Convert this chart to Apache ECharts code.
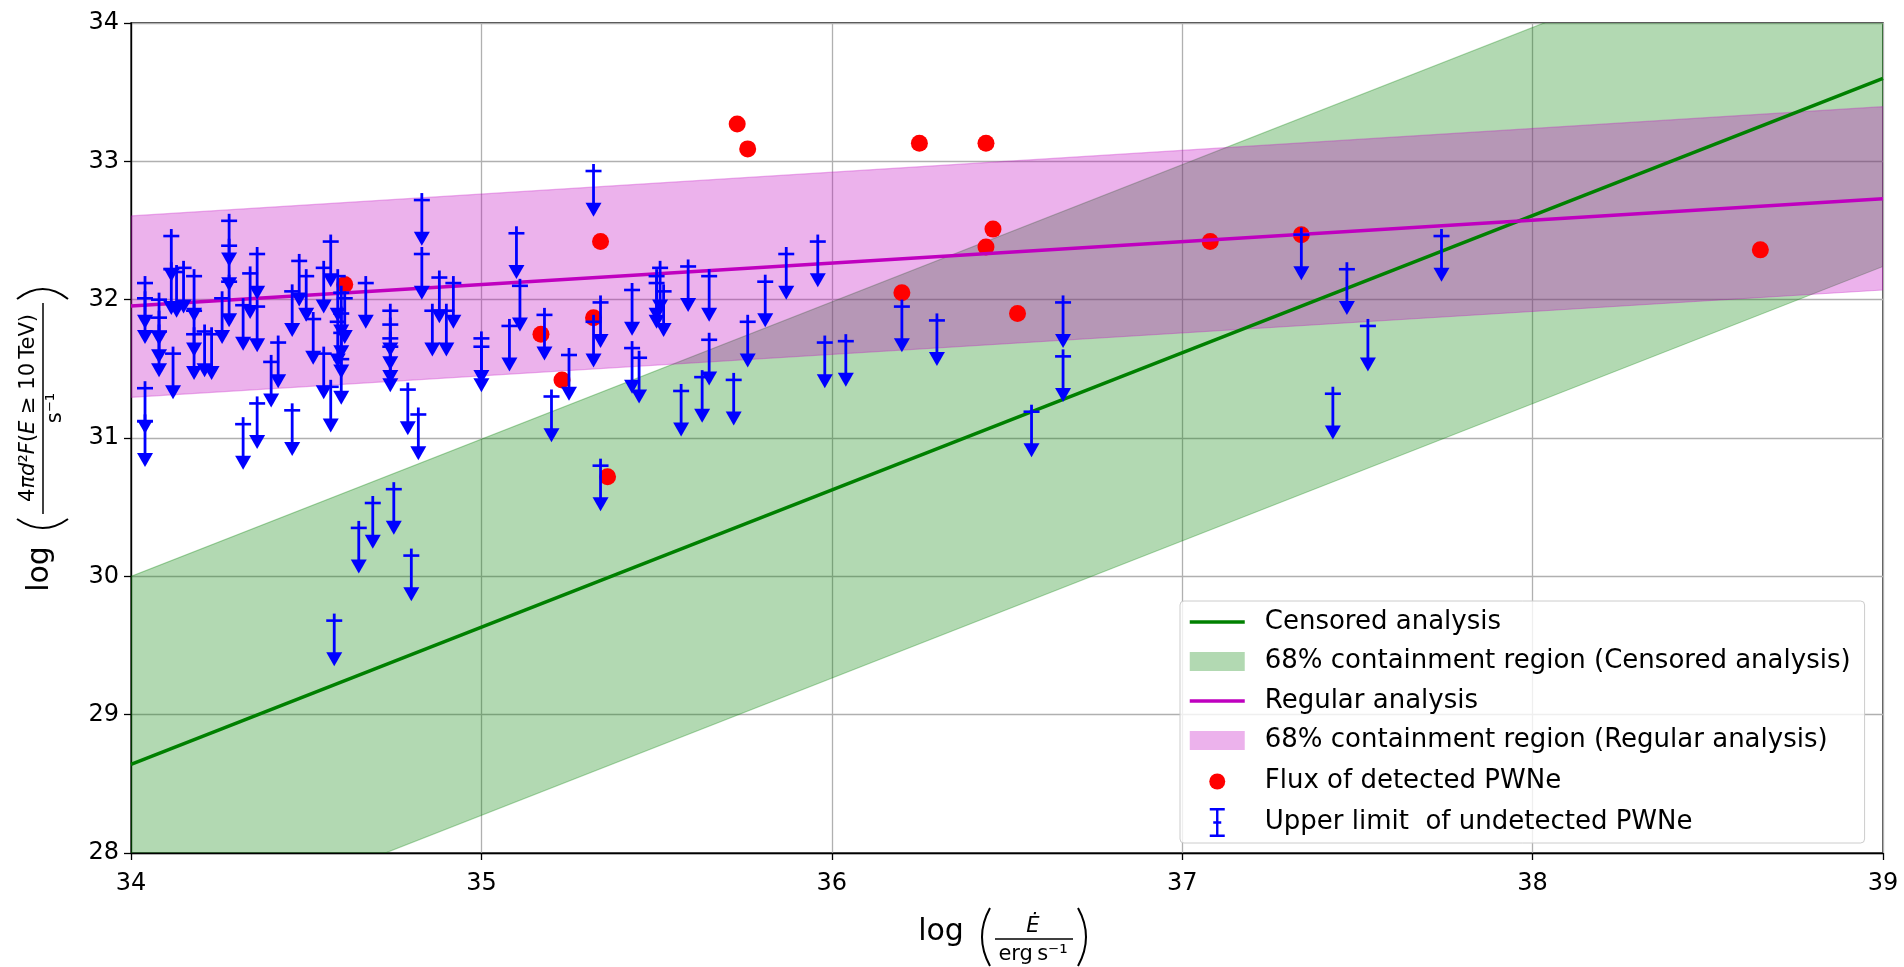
<!DOCTYPE html>
<html>
<head>
<meta charset="utf-8">
<script src="https://cdn.jsdelivr.net/npm/echarts@6/dist/echarts.min.js"></script>
<style>
  html, body { margin: 0; padding: 0; background: #fff; }
  #chart { width: 1904px; height: 967px; }
</style>
</head>
<body>
<div id="chart"></div>
<script>
var FONT = "DejaVu Sans";

// fitted relations (x = log Edot, y = log luminosity)
var censoredLine = [[34, 28.64], [39, 33.60]];
var censoredUpper = [[34, 30.00], [39, 34.96]];
var censoredLower = [[34, 27.28], [39, 32.24]];
var regularLine = [[34, 31.954], [39, 32.73]];
var regularUpper = [[34, 32.605], [39, 33.395]];
var regularLower = [[34, 31.294], [39, 32.07]];

// detected PWNe
var detX = [34.61, 35.17, 35.23, 35.32, 35.34, 35.36, 35.73, 35.76, 36.20, 36.25, 36.44, 36.44, 36.46, 36.53, 37.08, 37.34, 38.65];
var detY = [32.11, 31.75, 31.42, 31.87, 32.42, 30.72, 33.27, 33.09, 32.05, 33.13, 33.13, 32.38, 32.51, 31.90, 32.42, 32.47, 32.36];

// upper limits of undetected PWNe
var ulX = [34.04, 34.04, 34.04, 34.04, 34.08, 34.08, 34.08, 34.115, 34.115, 34.12, 34.13, 34.15,
  34.18, 34.18, 34.18, 34.21, 34.23, 34.26, 34.28, 34.28, 34.28, 34.32, 34.32, 34.34,
  34.36, 34.36, 34.36, 34.40, 34.42, 34.46, 34.46, 34.48, 34.50, 34.52, 34.55, 34.55,
  34.57, 34.57, 34.58, 34.59, 34.59, 34.60, 34.60, 34.60, 34.60, 34.61, 34.65, 34.67,
  34.69, 34.74, 34.74, 34.74, 34.74, 34.75, 34.79, 34.80, 34.82, 34.83, 34.83, 34.86,
  34.88, 34.90, 34.92, 35.00, 35.00, 35.08, 35.10, 35.11, 35.18, 35.20, 35.25, 35.32,
  35.32, 35.34, 35.34, 35.43, 35.43, 35.45, 35.50, 35.50, 35.51, 35.52, 35.57, 35.59,
  35.63, 35.65, 35.65, 35.72, 35.76, 35.81, 35.87, 35.96, 35.98, 36.04, 36.20, 36.30,
  36.57, 36.66, 36.66, 37.34, 37.43, 37.47, 37.53, 37.74];
var ulY = [32.12, 32.01, 31.36, 31.12, 32.00, 31.87, 31.77, 32.46, 32.22, 31.61, 32.20, 32.23,
  32.17, 31.92, 31.75, 31.77, 31.75, 32.01, 32.57, 32.39, 32.13, 31.96, 31.10, 32.19,
  32.33, 31.95, 31.25, 31.55, 31.69, 32.06, 31.20, 32.28, 32.17, 31.86, 32.23, 31.61,
  32.42, 31.37, 29.68, 32.17, 31.84, 32.05, 31.90, 31.76, 31.57, 32.01, 30.35, 32.12,
  30.53, 31.92, 31.82, 31.72, 31.66, 30.63, 31.35, 30.15, 31.17, 32.72, 32.33, 31.92,
  32.16, 31.92, 32.12, 31.72, 31.66, 31.81, 32.48, 32.10, 31.89, 31.30, 31.60, 32.93,
  31.84, 31.98, 30.80, 32.07, 31.65, 31.58, 32.17, 32.12, 32.23, 32.06, 31.34, 32.24,
  31.44, 32.17, 31.71, 31.42, 31.84, 32.13, 32.33, 32.42, 31.69, 31.70, 31.95, 31.85,
  31.19, 31.98, 31.59, 32.47, 31.32, 32.22, 31.81, 32.46];
var ulArrowLength = 0.33;

var xTicks = [34, 35, 36, 37, 38, 39];
var yTicks = [28, 29, 30, 31, 32, 33, 34];

var names = {
  cLine: "Censored analysis",
  cBand: "68% containment region (Censored analysis)",
  rLine: "Regular analysis",
  rBand: "68% containment region (Regular analysis)",
  det: "Flux of detected PWNe",
  ul: "Upper limit  of undetected PWNe"
};

var GREEN = "#008000", MAGENTA = "#bf00bf", BLUE = "#0000ff";
var greenFill = "rgba(0,128,0,0.3)", magentaFill = "rgba(191,0,191,0.3)";

// legend icons drawn in a 55x29 box (the two lone moves pin the box size)
var BOX = "path://M0,0 M55,29 ";
var patchIcon = BOX + "M0,5 L55,5 L55,24 L0,24 Z";
var dotIcon = BOX + "M35.5,14.5 A8,8 0 1 1 19.5,14.5 A8,8 0 1 1 35.5,14.5 Z";
var ulIcon = BOX + "M26.3,0 L28.7,0 L28.7,29 L26.3,29 Z M20,0 L35,0 L35,2.4 L20,2.4 Z " +
  "M20,26.6 L35,26.6 L35,29 L20,29 Z M23.5,13.3 L31.5,13.3 L31.5,15.7 L23.5,15.7 Z";

function band(name, upper, lower, fill, z) {
  return {
    name: name,
    type: "custom",
    z: z,
    clip: true,
    silent: true,
    itemStyle: { color: fill },
    data: upper,
    renderItem: function (params, api) {
      if (params.dataIndex !== 0) return;
      var pts = upper.map(function (p) { return api.coord(p); })
        .concat(lower.slice().reverse().map(function (p) { return api.coord(p); }));
      return {
        type: "polygon",
        shape: { points: pts },
        style: { fill: fill, stroke: fill, lineWidth: 1.2 }
      };
    }
  };
}

var ulData = ulX.map(function (x, i) { return [x, ulY[i]]; });
var detData = detX.map(function (x, i) { return [x, detY[i]]; });

function axis(ticks, margin) {
  return {
    type: "value",
    min: ticks[0],
    max: ticks[ticks.length - 1],
    interval: 1,
    axisLine: { show: true, onZero: false, lineStyle: { color: "#000", width: 1.3 } },
    axisTick: { show: true, length: 7, lineStyle: { color: "#000", width: 1.3 } },
    splitLine: { show: true, lineStyle: { color: "#b0b0b0", width: 1.3 } },
    axisLabel: { fontSize: 24, fontFamily: FONT, color: "#000", margin: margin }
  };
}

var chart = echarts.init(document.getElementById("chart"));

chart.setOption({
  animation: false,
  backgroundColor: "#fff",
  grid: {
    left: 131, right: 21, top: 23, bottom: 114,
    show: true, borderColor: "#000", borderWidth: 1.3
  },
  xAxis: axis(xTicks, 19),
  yAxis: axis(yTicks, 12),
  legend: {
    left: 1180,
    top: 601,
    orient: "vertical",
    padding: [8, 14, 6, 8],
    itemWidth: 55,
    itemHeight: 29,
    itemGap: 12,
    symbolKeepAspect: true,
    backgroundColor: "rgba(255,255,255,0.8)",
    borderColor: "#cccccc",
    borderWidth: 1,
    borderRadius: 4,
    textStyle: { fontSize: 26, fontFamily: FONT, color: "#000", lineHeight: 26, padding: [0, 0, 0, 15] },
    data: [
      { name: names.cLine, itemStyle: { opacity: 0 }, lineStyle: { color: GREEN, width: 3.5 } },
      { name: names.cBand, icon: patchIcon, itemStyle: { color: greenFill } },
      { name: names.rLine, itemStyle: { opacity: 0 }, lineStyle: { color: MAGENTA, width: 3.5 } },
      { name: names.rBand, icon: patchIcon, itemStyle: { color: magentaFill } },
      { name: names.det, icon: dotIcon, itemStyle: { color: "#ff0000", opacity: 1 } },
      { name: names.ul, icon: ulIcon, itemStyle: { color: BLUE } }
    ]
  },
  series: [
    band(names.cBand, censoredUpper, censoredLower, greenFill, 1),
    band(names.rBand, regularUpper, regularLower, magentaFill, 2),
    {
      name: names.det,
      type: "scatter",
      z: 3,
      symbol: "circle",
      symbolSize: 17,
      itemStyle: { color: "#ff0000", opacity: 1 },
      data: detData
    },
    {
      name: names.cLine,
      type: "line",
      z: 4,
      symbol: "none",
      color: GREEN,
      lineStyle: { color: GREEN, width: 3.5 },
      data: censoredLine
    },
    {
      name: names.rLine,
      type: "line",
      z: 4,
      symbol: "none",
      color: MAGENTA,
      lineStyle: { color: MAGENTA, width: 3.5 },
      data: regularLine
    },
    {
      name: names.ul,
      type: "custom",
      z: 5,
      itemStyle: { color: BLUE },
      encode: { x: 0, y: 1 },
      data: ulData,
      renderItem: function (params, api) {
        var cap = api.coord([api.value(0), api.value(1)]);
        var tip = api.coord([api.value(0), api.value(1) - ulArrowLength]);
        var cx = cap[0];
        var head = 14, hw = 8;
        return {
          type: "group",
          children: [
            { type: "line", shape: { x1: cx, y1: cap[1] - 7, x2: cx, y2: tip[1] - head + 1 },
              style: { stroke: BLUE, lineWidth: 2.8 } },
            { type: "line", shape: { x1: cx - 8, y1: cap[1], x2: cx + 8, y2: cap[1] },
              style: { stroke: BLUE, lineWidth: 2.6 } },
            { type: "polygon", shape: { points: [[cx - hw, tip[1] - head], [cx + hw, tip[1] - head], [cx, tip[1]]] },
              style: { fill: BLUE } }
          ]
        };
      }
    }
  ],
  graphic: [
    // x axis label: log(Edot / erg s^-1)
    { type: "text", x: 941, y: 932,
      style: { text: "log", fontSize: 30, fontFamily: FONT, fill: "#000", align: "center", verticalAlign: "middle" } },
    { type: "bezierCurve", shape: { x1: 990, y1: 908, cpx1: 974, cpy1: 937, x2: 990, y2: 966 },
      style: { stroke: "#000", lineWidth: 2, fill: null } },
    { type: "line", shape: { x1: 995, y1: 939, x2: 1073, y2: 939 }, style: { stroke: "#000", lineWidth: 1.5 } },
    { type: "text", x: 1033, y: 927,
      style: { text: "\u0116", fontSize: 21, fontStyle: "italic", fontFamily: FONT, fill: "#000", align: "center", verticalAlign: "middle" } },
    { type: "text", x: 1033, y: 955,
      style: { text: "erg\u2009s\u207B\u00B9", fontSize: 21, fontFamily: FONT, fill: "#000", align: "center", verticalAlign: "middle" } },
    { type: "bezierCurve", shape: { x1: 1078, y1: 908, cpx1: 1094, cpy1: 937, x2: 1078, y2: 966 },
      style: { stroke: "#000", lineWidth: 2, fill: null } },
    // y axis label, rotated
    {
      type: "group", x: 43, y: 441, rotation: Math.PI / 2,
      children: [
        { type: "text", x: -128, y: -3,
          style: { text: "log", fontSize: 30, fontFamily: FONT, fill: "#000", align: "center", verticalAlign: "middle" } },
        { type: "bezierCurve", shape: { x1: -78, y1: -26, cpx1: -96, cpy1: 0, x2: -78, y2: 25 },
          style: { stroke: "#000", lineWidth: 2, fill: null } },
        { type: "line", shape: { x1: -73, y1: 0, x2: 138, y2: 0 }, style: { stroke: "#000", lineWidth: 1.5 } },
        { type: "text", x: 33, y: -14,
          style: {
            text: "4{i|\u03C0d}\u00B2{i|F}({i|E} \u2265 10\u2009TeV)",
            fontSize: 21, fontFamily: FONT, fill: "#000", align: "center", verticalAlign: "middle",
            rich: { i: { fontSize: 21, fontFamily: FONT, fontStyle: "italic", fill: "#000" } }
          } },
        { type: "text", x: 33, y: 13,
          style: { text: "s\u207B\u00B9", fontSize: 21, fontFamily: FONT, fill: "#000", align: "center", verticalAlign: "middle" } },
        { type: "bezierCurve", shape: { x1: 142, y1: -26, cpx1: 162, cpy1: 0, x2: 142, y2: 25 },
          style: { stroke: "#000", lineWidth: 2, fill: null } }
      ]
    }
  ]
});
</script>
</body>
</html>
